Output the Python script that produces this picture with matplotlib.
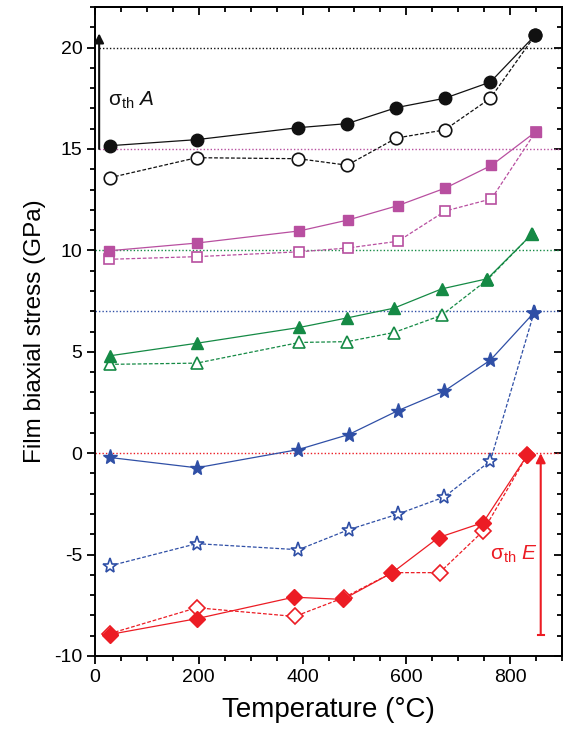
import numpy as np
import matplotlib
matplotlib.use("Agg")
import matplotlib.pyplot as plt
from matplotlib.ticker import MultipleLocator

plt.rcParams['font.family'] = ['Liberation Sans', 'DejaVu Sans']
plt.rcParams['mathtext.fontset'] = 'custom'
plt.rcParams['mathtext.rm'] = 'Liberation Sans'
plt.rcParams['mathtext.it'] = 'Liberation Sans:italic'
plt.rcParams['axes.unicode_minus'] = False

# temperature points (°C) and biaxial stress (GPa), filled = solid line, open = dashed line
T_a = [28, 196, 392, 486, 581, 674, 762, 848]
S_a_fill = [15.16, 15.46, 16.05, 16.25, 17.04, 17.5, 18.3, 20.6]
S_a_open = [13.58, 14.57, 14.52, 14.2, 15.54, 15.94, 17.5, 20.6]

T_b = [27, 196, 394, 488, 584, 675, 764, 849]
S_b_fill = [9.98, 10.36, 10.96, 11.5, 12.21, 13.07, 14.19, 15.84]
S_b_open = [9.56, 9.69, 9.93, 10.12, 10.45, 11.94, 12.54, 15.84]

T_c = [28, 196, 394, 486, 576, 668, 756, 842]
S_c_fill = [4.8, 5.42, 6.2, 6.67, 7.15, 8.1, 8.6, 10.8]
S_c_open = [4.38, 4.44, 5.46, 5.5, 5.95, 6.8, 8.55, 10.8]

T_d = [28, 196, 392, 489, 583, 673, 762, 846]
S_d_fill = [-0.21, -0.72, 0.18, 0.92, 2.09, 3.06, 4.59, 6.93]
S_d_open = [-5.56, -4.46, -4.76, -3.77, -3.01, -2.16, -0.38, 6.93]

T_e_fill = [28, 196, 383, 478, 573, 662, 748, 833]
S_e_fill = [-8.94, -8.16, -7.1, -7.21, -5.89, -4.16, -3.42, -0.1]
T_e_open = [28, 196, 385, 479, 573, 664, 748, 833]
S_e_open = [-8.9, -7.62, -8.05, -7.13, -5.89, -5.89, -3.84, -0.1]

# reference stress levels
ref_levels = [20, 15, 10, 7, 0]

black = '#111111'
magenta = '#b84fa0'
green = '#158a45'
blue = '#2f4fa6'
red = '#ec1c24'

fig = plt.figure(figsize=(5.64, 7.31), dpi=100)
ax = fig.add_axes([95 / 564, 75 / 731, (562 - 95) / 564, (656 - 7) / 731])

dot = (0, (1, 1.5))
ax.hlines(ref_levels[0], 8, 900, colors=black, linestyles=dot, lw=1)
ax.hlines(ref_levels[1], 8, 900, colors=magenta, linestyles=dot, lw=1)
ax.hlines(ref_levels[2], 0, 900, colors=green, linestyles=dot, lw=1)
ax.hlines(ref_levels[3], 0, 900, colors=blue, linestyles=dot, lw=1)
ax.hlines(ref_levels[4], 0, 900, colors=red, linestyles=dot, lw=1)

dash = (0, (3, 1.5))

# circles
ax.plot(T_a, S_a_open, ls=dash, lw=0.9, color=black, marker='o', ms=9,
        mfc='white', mec=black, mew=1.2)
ax.plot(T_a, S_a_fill, ls='-', lw=0.9, color=black, marker='o', ms=9,
        mfc=black, mec=black)

# squares
ax.plot(T_b, S_b_open, ls=dash, lw=0.9, color=magenta, marker='s', ms=7.5,
        mfc='white', mec=magenta, mew=1.2)
ax.plot(T_b, S_b_fill, ls='-', lw=0.9, color=magenta, marker='s', ms=7.5,
        mfc=magenta, mec=magenta)

# triangles
ax.plot(T_c, S_c_open, ls=dash, lw=0.9, color=green, marker='^', ms=9,
        mfc='white', mec=green, mew=1.2)
ax.plot(T_c, S_c_fill, ls='-', lw=0.9, color=green, marker='^', ms=9,
        mfc=green, mec=green)

# stars
ax.plot(T_d, S_d_open, ls=dash, lw=0.9, color=blue, marker='*', ms=11,
        mfc='white', mec=blue, mew=1.2)
ax.plot(T_d, S_d_fill, ls='-', lw=0.9, color=blue, marker='*', ms=11,
        mfc=blue, mec=blue)

# diamonds
ax.plot(T_e_open, S_e_open, ls=dash, lw=0.9, color=red, marker='D', ms=8,
        mfc='white', mec=red, mew=1.2)
ax.plot(T_e_fill, S_e_fill, ls='-', lw=0.9, color=red, marker='D', ms=8,
        mfc=red, mec=red)

# thermal stress arrows
ax.annotate('', xy=(8, 20.7), xytext=(8, 15),
            arrowprops=dict(arrowstyle='-|>', color=black, lw=1.5,
                            mutation_scale=14, shrinkA=0, shrinkB=0))
ax.text(26, 17.4, r'$\mathrm{\sigma_{th}}\ \mathit{A}$', color=black,
        fontsize=15, va='center', ha='left')

ax.annotate('', xy=(859, 0), xytext=(859, -8.96),
            arrowprops=dict(arrowstyle='-|>', color=red, lw=1.5,
                            mutation_scale=14, shrinkA=0, shrinkB=0))
ax.plot([853, 865], [-8.96, -8.96], color=red, lw=1.5)
ax.text(854, -5.0, r'$\mathrm{\sigma_{th}}\ \mathit{E}$', color=red,
        fontsize=15, va='center', ha='right')

ax.set_xlim(0, 900)
ax.set_ylim(-10, 22)
ax.xaxis.set_major_locator(MultipleLocator(200))
ax.xaxis.set_minor_locator(MultipleLocator(50))
ax.yaxis.set_major_locator(MultipleLocator(5))
ax.yaxis.set_minor_locator(MultipleLocator(1))

ax.tick_params(which='both', direction='out', top=False, right=False,
               width=1.3, labelsize=14, pad=3)
ax.tick_params(which='major', length=6)
ax.tick_params(which='minor', length=3.5)

# inward ticks on top and right
sec_x = ax.secondary_xaxis('top')
sec_x.xaxis.set_major_locator(MultipleLocator(200))
sec_x.xaxis.set_minor_locator(MultipleLocator(50))
sec_x.tick_params(which='both', direction='in', labeltop=False, width=1.3)
sec_x.tick_params(which='major', length=6)
sec_x.tick_params(which='minor', length=3.5)
sec_y = ax.secondary_yaxis('right')
sec_y.yaxis.set_major_locator(MultipleLocator(5))
sec_y.yaxis.set_minor_locator(MultipleLocator(1))
sec_y.tick_params(which='both', direction='in', labelright=False, width=1.3)
sec_y.tick_params(which='major', length=6)
sec_y.tick_params(which='minor', length=3.5)

for sp in ax.spines.values():
    sp.set_linewidth(1.4)
sec_x.spines['top'].set_linewidth(1.4)
sec_y.spines['right'].set_linewidth(1.4)

ax.set_xlabel('Temperature (°C)', fontsize=20, labelpad=8)
ax.set_ylabel('Film biaxial stress (GPa)', fontsize=17.5, labelpad=6)

fig.savefig('out.png', dpi=100)
